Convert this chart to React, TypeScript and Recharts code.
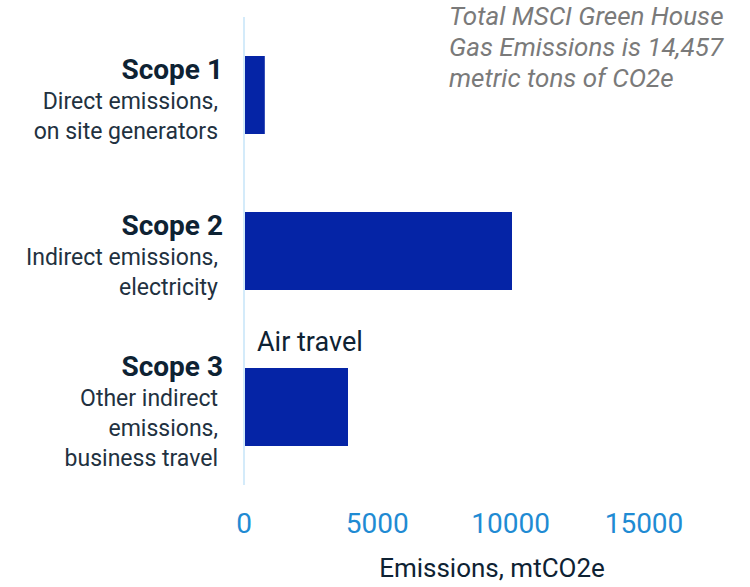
import { Bar, BarChart, LabelList, XAxis, YAxis } from "recharts";

const SCOPES = ["Scope 1", "Scope 2", "Scope 3"];
const SCOPE_DETAILS = [
  ["Direct emissions,", "on site generators"],
  ["Indirect emissions,", "electricity"],
  ["Other indirect", "emissions,", "business travel"],
];
const EMISSIONS = [780, 10050, 3900];
const BAR_NOTES = ["", "", "Air travel"];
const X_TICKS = [0, 5000, 10000, 15000];
const NOTE_LINES = [
  "Total MSCI Green House",
  "Gas Emissions is 14,457",
  "metric tons of CO2e",
];

const FONT = "Roboto, 'Noto Sans', sans-serif";
const BAR_COLOR = "#0524a6";
const TITLE_COLOR = "#0e2233";
const DETAIL_COLOR = "#22313f";
const TICK_COLOR = "#1f8bd3";
const LINE_HEIGHT = 30;

const data = SCOPES.map((scope, i) => ({
  scope,
  value: EMISSIONS[i],
  note: BAR_NOTES[i],
}));

function ScopeTick({ x, y, payload }: any) {
  const idx = SCOPES.indexOf(String(payload.value));
  const lines = [payload.value, ...(SCOPE_DETAILS[idx] ?? [])];
  const first = Number(y) + 14 - ((lines.length - 1) * LINE_HEIGHT) / 2;
  return (
    <g>
      {lines.map((line, i) => (
        <text
          key={i}
          x={Number(x) - (i === 0 ? 13 : 18)}
          y={first + i * LINE_HEIGHT}
          textAnchor="end"
          fontFamily={FONT}
          fontSize={i === 0 ? 28 : 23}
          fontWeight={i === 0 ? 700 : 400}
          fill={i === 0 ? TITLE_COLOR : DETAIL_COLOR}
        >
          {line}
        </text>
      ))}
    </g>
  );
}

function NoteLabel({ x = 0, y = 0, value }: any) {
  if (!value) return null;
  return (
    <text
      x={Number(x) + 13}
      y={Number(y) - 17}
      fontFamily={FONT}
      fontSize={27}
      fill={TITLE_COLOR}
    >
      {value}
    </text>
  );
}

function AxisTitle({ viewBox }: any) {
  const { x, y, width } = viewBox;
  return (
    <text
      x={x + width / 2 + 48}
      y={y + 92}
      textAnchor="middle"
      fontFamily={FONT}
      fontSize={26}
      fill={TITLE_COLOR}
    >
      Emissions, mtCO2e
    </text>
  );
}

export default function App() {
  return (
    <div style={{ position: "absolute", left: 0, top: 0, width: 750, height: 587 }}>
      <BarChart
        width={750}
        height={587}
        data={data}
        layout="vertical"
        margin={{ top: 17, right: 106, bottom: 0, left: 0 }}
        barSize={78}
      >
        <XAxis
          type="number"
          domain={[0, 15000]}
          ticks={X_TICKS}
          height={102}
          axisLine={false}
          tickLine={false}
          tickMargin={22}
          tick={{ fill: TICK_COLOR, fontSize: 28, fontFamily: FONT }}
          label={<AxisTitle />}
        />
        <YAxis
          type="category"
          dataKey="scope"
          width={244}
          interval={0}
          axisLine={{ stroke: "#d4ebfa", strokeWidth: 2 }}
          tickLine={false}
          tick={<ScopeTick />}
        />
        <Bar dataKey="value" fill={BAR_COLOR} isAnimationActive={false}>
          <LabelList dataKey="note" content={<NoteLabel />} />
        </Bar>
      </BarChart>
      <svg
        width={750}
        height={587}
        style={{ position: "absolute", left: 0, top: 0, pointerEvents: "none" }}
      >
        {NOTE_LINES.map((line, i) => (
          <text
            key={i}
            x={449}
            y={25 + i * 31}
            fontFamily={FONT}
            fontSize={26}
            fontStyle="italic"
            fill="#7a7a7a"
          >
            {line}
          </text>
        ))}
      </svg>
    </div>
  );
}
